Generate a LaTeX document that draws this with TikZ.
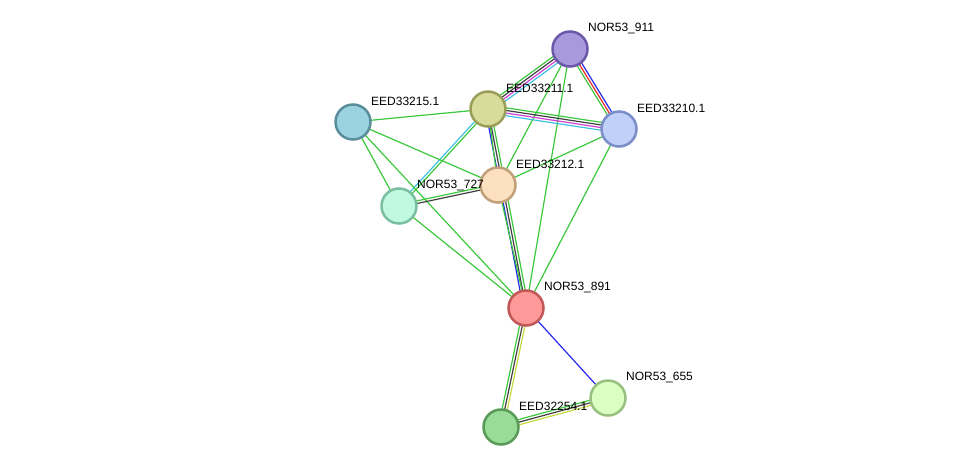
\documentclass[tikz,border=0pt]{standalone}
\usepackage{fontspec}
\setmainfont{Liberation Sans}
\usepackage{tikz}
\usetikzlibrary{positioning, calc, backgrounds}

\definecolor{lgreen}{HTML}{3CC83C}
\definecolor{lblack}{HTML}{404040}
\definecolor{lmagenta}{HTML}{D040D0}
\definecolor{lcyan}{HTML}{40C0E0}
\definecolor{lblue}{HTML}{2828F0}
\definecolor{lred}{HTML}{F02828}
\definecolor{lyellow}{HTML}{C8D840}

% bundle of parallel links: from, to, number, colours
\newcommand{\linkset}[4]{%
  \foreach \col [count=\k] in {#4} {
    \pgfmathsetmacro\off{(\k-(#3+1)/2)*2.6}
    \draw[link, \col] ($(#1)!\off pt!90:(#2)$) -- ($(#2)!\off pt!-90:(#1)$);
  }}

\begin{document}
\begin{tikzpicture}[ x = 1pt, y = -1pt
                     , font = \fontsize{12}{14}\selectfont
                     , prot/.style = { circle
                                     , minimum size = 35pt
                                     , line width = 2.5pt
                                     , inner sep = 0pt }
                     , link/.style = { line width = 1.2pt }
                     , lbl/.style = { anchor = west
                                    , inner sep = 0pt }
                     ]

  \useasboundingbox (0,0) rectangle (976,472);

  \node (n911) [prot, fill = {rgb,255:red,168;green,152;blue,220}, draw = {rgb,255:red,106;green,88;blue,168}] at (570,49) {};
  \node (e211) [prot, fill = {rgb,255:red,216;green,220;blue,152}, draw = {rgb,255:red,154;green,158;blue,88}] at (488,109) {};
  \node (e215) [prot, fill = {rgb,255:red,155;green,211;blue,224}, draw = {rgb,255:red,90;green,142;blue,154}] at (353,122) {};
  \node (e210) [prot, fill = {rgb,255:red,192;green,208;blue,248}, draw = {rgb,255:red,122;green,142;blue,200}] at (619,129) {};
  \node (e212) [prot, fill = {rgb,255:red,253;green,224;blue,192}, draw = {rgb,255:red,191;green,160;blue,122}] at (498,185) {};
  \node (n727) [prot, fill = {rgb,255:red,192;green,248;blue,224}, draw = {rgb,255:red,122;green,191;blue,160}] at (399,206) {};
  \node (n891) [prot, fill = {rgb,255:red,255;green,152;blue,152}, draw = {rgb,255:red,192;green,88;blue,88}] at (526,308) {};
  \node (n655) [prot, fill = {rgb,255:red,218;green,255;blue,192}, draw = {rgb,255:red,152;green,192;blue,128}] at (608,398) {};
  \node (e254) [prot, fill = {rgb,255:red,152;green,220;blue,152}, draw = {rgb,255:red,88;green,154;blue,88}] at (501,427) {};

  \begin{scope}[on background layer]
    \linkset{n911}{e211}{4}{lgreen, lblack, lmagenta, lcyan}
    \linkset{n911}{e210}{3}{lgreen, lred, lblue}
    \linkset{n911}{e212}{1}{lgreen}
    \linkset{n911}{n891}{1}{lgreen}
    \linkset{e211}{e210}{4}{lcyan, lmagenta, lblack, lgreen}
    \linkset{e211}{e215}{1}{lgreen}
    \linkset{e211}{n727}{2}{lcyan, lgreen}
    \linkset{e211}{n891}{3}{lblue, lblack, lgreen}
    \linkset{e211}{e212}{1}{lgreen}
    \linkset{e215}{e212}{1}{lgreen}
    \linkset{e215}{n727}{1}{lgreen}
    \linkset{e215}{n891}{1}{lgreen}
    \linkset{n727}{e212}{2}{lblack, lgreen}
    \linkset{n727}{n891}{1}{lgreen}
    \linkset{e212}{e210}{1}{lgreen}
    \linkset{e212}{n891}{1}{lgreen}
    \linkset{e210}{n891}{1}{lgreen}
    \linkset{n891}{n655}{1}{lblue}
    \linkset{n891}{e254}{3}{lgreen, lblack, lyellow}
    \linkset{n655}{e254}{3}{lgreen, lblack, lyellow}
  \end{scope}

  \node [lbl] at ($(n911)+(18,-21)$) {NOR53\_911};
  \node [lbl] at ($(e211)+(18,-21)$) {EED33211.1};
  \node [lbl] at ($(e215)+(18,-21)$) {EED33215.1};
  \node [lbl] at ($(e210)+(18,-21)$) {EED33210.1};
  \node [lbl] at ($(e212)+(18,-21)$) {EED33212.1};
  \node [lbl] at ($(n727)+(18,-21)$) {NOR53\_727};
  \node [lbl] at ($(n891)+(18,-21)$) {NOR53\_891};
  \node [lbl] at ($(n655)+(18,-21)$) {NOR53\_655};
  \node [lbl] at ($(e254)+(18,-21)$) {EED32254.1};

\end{tikzpicture}
\end{document}
